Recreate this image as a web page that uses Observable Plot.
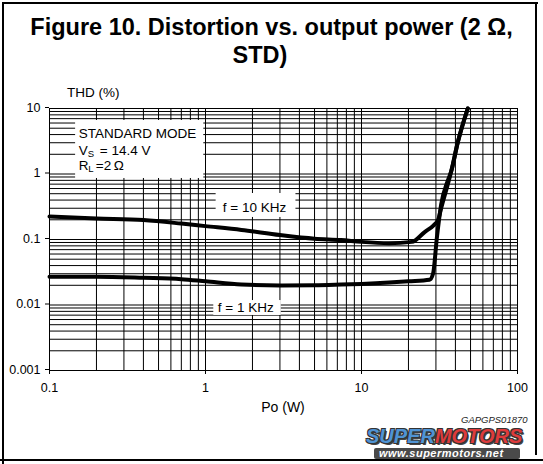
<!DOCTYPE html>
<html>
<head>
<meta charset="utf-8">
<script src="https://cdn.jsdelivr.net/npm/d3@7"></script>
<script src="https://cdn.jsdelivr.net/npm/@observablehq/plot@0.6"></script>
<style>
  body { margin: 0; background: #fff; }
  #wrap { position: relative; width: 543px; height: 464px; background: #fff; overflow: hidden;
          font-family: "Liberation Sans", Arial, sans-serif; color: #000; }
  .abs { position: absolute; white-space: nowrap; }
  .line { position: absolute; background: #000; }
  #chart { position: absolute; left: 0; top: 80px; }
</style>
</head>
<body>
<div id="wrap">
  <div id="chart"></div>
  <div class="abs" style="left:0;top:13px;width:543px;text-align:center;font-weight:bold;font-size:23.5px;line-height:28px;">Figure 10. Distortion vs. output power (2 Ω,</div>
  <div class="abs" style="left:0;top:41px;width:520px;text-align:center;font-weight:bold;font-size:23.5px;line-height:28px;">STD)</div>
  <div class="abs" style="left:67px;top:85px;font-size:13.5px;line-height:16px;">THD (%)</div>
  <div class="abs" style="left:233px;top:399px;width:100px;text-align:center;font-size:14px;line-height:16px;">Po (W)</div>
  <div class="abs" style="left:461px;top:414px;font-size:9.5px;line-height:11px;font-style:italic;color:#222;">GAPGPS01870</div>
  <div class="abs" style="left:374px;top:448px;width:146px;height:11px;background:#4a4a4a;border-radius:2px;"></div>
  <div class="abs" style="left:366px;top:426px;font-size:20px;line-height:20px;font-weight:bold;font-style:italic;text-shadow:1px 1px 0 #333,-1px -1px 0 #333,1px -1px 0 #333,-1px 1px 0 #333,2px 2px 0 #444;"><span style="color:#4f93d4">SUPER</span><span style="color:#de3b3b">MOTORS</span></div>
  <div class="abs" style="left:379px;top:448px;font-size:11px;line-height:11px;font-weight:bold;font-style:italic;color:#fff;letter-spacing:0.5px;">www.supermotors.net</div>
  <div class="line" style="left:2px;top:2px;width:536px;height:2px;"></div>
  <div class="line" style="left:2px;top:2px;width:2px;height:462px;"></div>
  <div class="line" style="left:535px;top:2px;width:2px;height:453px;"></div>
  <div class="line" style="left:0;top:459px;width:543px;height:2px;"></div>
</div>
<script>
// Tick values and labels
const xTickValues = [0.1, 1, 10, 100];
const xTickLabels = ["0.1", "1", "10", "100"];
const yTickValues = [10, 1, 0.1, 0.01, 0.001];
const yTickLabels = ["10", "1", "0.1", "0.01", "0.001"];

// f = 10 KHz curve: output power (W) and THD (%)
const p10k = [0.1, 0.2, 0.4, 0.7, 1, 1.7, 3, 5, 7.4, 10, 15, 21, 25.4, 29, 31, 32.4, 35, 37.6, 41.5, 48];
const thd10k = [0.225, 0.21, 0.198, 0.175, 0.16, 0.14, 0.117, 0.103, 0.098, 0.092, 0.088, 0.092, 0.13, 0.165, 0.2, 0.3, 0.58, 1.1, 3.1, 10];

// f = 1 KHz curve
const p1k = [0.1, 0.2, 0.4, 0.7, 1, 1.7, 3, 5, 7.4, 10, 15, 20, 27.3, 28.8, 30.4, 32.4, 35.8, 37.6, 41.5, 48];
const thd1k = [0.027, 0.027, 0.026, 0.0248, 0.023, 0.0205, 0.0199, 0.02, 0.0205, 0.021, 0.022, 0.023, 0.0243, 0.0306, 0.105, 0.34, 0.8, 1.1, 3.1, 10];

// Annotation labels (positions in data units)
const boxLabels = ["standard", "f10k", "f1k"];
const boxX1 = [0.147, 1.17, 1.13];
const boxX2 = [0.975, 3.80, 3.06];
const boxY1 = [0.854, 0.217, 0.00692];
const boxY2 = [6.56, 0.504, 0.0117];

const curveLabels = ["f = 10 KHz", "f = 1 KHz"];
const curveLabelX = [2.06, 1.81];
const curveLabelY = [0.31, 0.00916];

const modeX = 0.154;
const modeLineY = [4.08, 2.24, 1.35];

const series10 = p10k.map((p, i) => ({P: p, THD: thd10k[i]}));
const series1 = p1k.map((p, i) => ({P: p, THD: thd1k[i]}));
const boxes = boxLabels.map((k, i) => ({k, x1: boxX1[i], x2: boxX2[i], y1: boxY1[i], y2: boxY2[i]}));
const curveText = curveLabels.map((t, i) => ({t, x: curveLabelX[i], y: curveLabelY[i]}));

const xGrid = d3.scaleLog().domain([0.1, 100]).ticks();
const yGrid = d3.scaleLog().domain([0.001, 10]).ticks();

const chart = Plot.plot({
  width: 543,
  height: 340,
  marginTop: 28,
  marginBottom: 50,
  marginLeft: 49,
  marginRight: 26,
  x: {type: "log", domain: [0.1, 100], label: null},
  y: {type: "log", domain: [0.001, 10], label: null},
  style: {fontFamily: "'Liberation Sans', Arial, sans-serif", fontSize: "13px", background: "transparent", color: "#000"},
  marks: [
    Plot.gridX(xGrid, {stroke: "#000", strokeOpacity: 1, strokeWidth: 1}),
    Plot.gridY(yGrid, {stroke: "#000", strokeOpacity: 1, strokeWidth: 1}),
    Plot.frame({stroke: "#000", strokeWidth: 1}),
    Plot.axisX(xTickValues, {tickFormat: d => xTickLabels[xTickValues.indexOf(d)], tickSize: 4, tickPadding: 9, fontSize: 12.5, label: null}),
    Plot.axisY(yTickValues, {tickFormat: d => yTickLabels[yTickValues.indexOf(d)], tickSize: 4, tickPadding: 5, fontSize: 12.5, label: null, dy: -1}),
    Plot.rect(boxes, {x1: "x1", x2: "x2", y1: "y1", y2: "y2", fill: "#fff"}),
    Plot.line(series10, {x: "P", y: "THD", stroke: "#000", strokeWidth: 4, curve: "monotone-x"}),
    Plot.line(series1, {x: "P", y: "THD", stroke: "#000", strokeWidth: 4, curve: "monotone-x"}),
    Plot.text(curveText, {x: "x", y: "y", text: "t", fontSize: 13.5, fill: "#000", textAnchor: "middle"}),
    Plot.text(["STANDARD MODE"], {x: () => modeX, y: () => modeLineY[0], text: d => d, fontSize: 13.5, textAnchor: "start"}),
    Plot.text(["V"], {x: () => modeX, y: () => modeLineY[1], text: d => d, fontSize: 13.5, textAnchor: "start"}),
    Plot.text(["S"], {x: () => modeX, y: () => modeLineY[1], text: d => d, fontSize: 9.5, textAnchor: "start", dx: 9, dy: 3}),
    Plot.text(["= 14.4 V"], {x: () => modeX, y: () => modeLineY[1], text: d => d, fontSize: 13.5, textAnchor: "start", dx: 21}),
    Plot.text(["R"], {x: () => modeX, y: () => modeLineY[2], text: d => d, fontSize: 13.5, textAnchor: "start"}),
    Plot.text(["L"], {x: () => modeX, y: () => modeLineY[2], text: d => d, fontSize: 9.5, textAnchor: "start", dx: 9.5, dy: 3}),
    Plot.text(["=2\u2009Ω"], {x: () => modeX, y: () => modeLineY[2], text: d => d, fontSize: 13.5, textAnchor: "start", dx: 17})
  ]
});
document.getElementById("chart").appendChild(chart);
</script>
</body>
</html>
